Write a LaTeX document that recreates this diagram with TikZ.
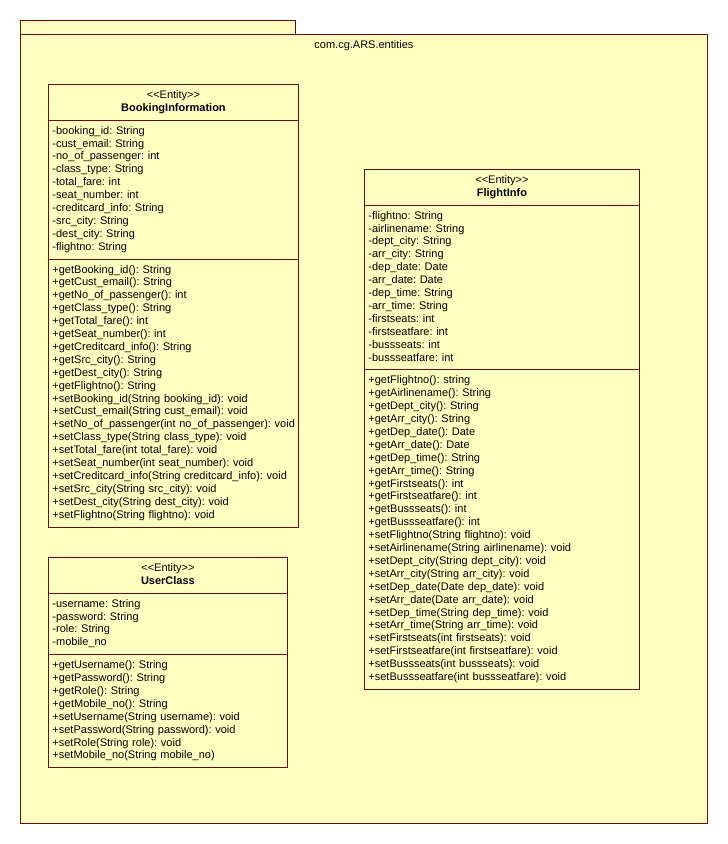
\documentclass[tikz,border=0pt]{standalone}
\usepackage{fontspec}
\setmainfont[Ligatures=NoCommon]{Liberation Sans}
\usepackage{xcolor}
\usetikzlibrary{shapes.multipart, positioning}

\definecolor{umlfill}{RGB}{255,255,192}
\definecolor{umlline}{RGB}{105,12,0}

\begin{document}
\begin{tikzpicture}[
    x=1pt, y=-1pt,
    every node/.style={font=\fontsize{11}{12.9}\selectfont\frenchspacing},
    pkgbox/.style={rectangle, draw=umlline, fill=umlfill, line width=0.9pt, anchor=north west, inner sep=0pt},
    entity/.style={rectangle split, rectangle split parts=3, draw=umlline, fill=umlfill, line width=0.9pt, anchor=north west, inner xsep=4pt, inner ysep=4.5pt, align=left}
]
    \useasboundingbox (0,0) rectangle (728,844);

    % Package frame
    \node[pkgbox, minimum width=275pt, minimum height=14pt] (pkgtab) at (20,20) {};
    \node[pkgbox, minimum width=687pt, minimum height=789pt] (pkgbody) at (20,34) {};
    \node[below=3pt of pkgbody.north] (pkgname) {com.cg.ARS.entities};

    % Entity classes
    \node[entity, text width=242pt] (booking) at (48,84) {%
        {\centering\strut{<}{<}Entity{>}{>}\\\textbf{BookingInformation}\strut\par}
        \nodepart{two}\raggedright\strut
        -booking\_id: String\\
        -cust\_email: String\\
        -no\_of\_passenger: int\\
        -class\_type: String\\
        -total\_fare: int\\
        -seat\_number: int\\
        -creditcard\_info: String\\
        -src\_city: String\\
        -dest\_city: String\\
        -flightno: String\strut
        \nodepart{three}\raggedright\strut
        +getBooking\_id(): String\\
        +getCust\_email(): String\\
        +getNo\_of\_passenger(): int\\
        +getClass\_type(): String\\
        +getTotal\_fare(): int\\
        +getSeat\_number(): int\\
        +getCreditcard\_info(): String\\
        +getSrc\_city(): String\\
        +getDest\_city(): String\\
        +getFlightno(): String\\
        +setBooking\_id(String booking\_id): void\\
        +setCust\_email(String cust\_email): void\\
        \mbox{+setNo\_of\_passenger(int no\_of\_passenger): void}\\
        +setClass\_type(String class\_type): void\\
        +setTotal\_fare(int total\_fare): void\\
        +setSeat\_number(int seat\_number): void\\
        +setCreditcard\_info(String creditcard\_info): void\\
        +setSrc\_city(String src\_city): void\\
        +setDest\_city(String dest\_city): void\\
        +setFlightno(String flightno): void\strut};

    \node[entity, text width=267pt] (flight) at (364,169) {%
        {\centering\strut{<}{<}Entity{>}{>}\\\textbf{FlightInfo}\strut\par}
        \nodepart{two}\raggedright\strut
        -flightno: String\\
        -airlinename: String\\
        -dept\_city: String\\
        -arr\_city: String\\
        -dep\_date: Date\\
        -arr\_date: Date\\
        -dep\_time: String\\
        -arr\_time: String\\
        -firstseats: int\\
        -firstseatfare: int\\
        -bussseats: int\\
        -bussseatfare: int\strut
        \nodepart{three}\raggedright\strut
        +getFlightno(): string\\
        +getAirlinename(): String\\
        +getDept\_city(): String\\
        +getArr\_city(): String\\
        +getDep\_date(): Date\\
        +getArr\_date(): Date\\
        +getDep\_time(): String\\
        +getArr\_time(): String\\
        +getFirstseats(): int\\
        +getFirstseatfare(): int\\
        +getBussseats(): int\\
        +getBussseatfare(): int\\
        +setFlightno(String flightno): void\\
        +setAirlinename(String airlinename): void\\
        +setDept\_city(String dept\_city): void\\
        +setArr\_city(String arr\_city): void\\
        +setDep\_date(Date dep\_date): void\\
        +setArr\_date(Date arr\_date): void\\
        +setDep\_time(String dep\_time): void\\
        +setArr\_time(String arr\_time): void\\
        +setFirstseats(int firstseats): void\\
        +setFirstseatfare(int firstseatfare): void\\
        +setBussseats(int bussseats): void\\
        +setBussseatfare(int bussseatfare): void\strut};

    \node[entity, text width=231pt] (user) at (48,557) {%
        {\centering\strut{<}{<}Entity{>}{>}\\\textbf{UserClass}\strut\par}
        \nodepart{two}\raggedright\strut
        -username: String\\
        -password: String\\
        -role: String\\
        -mobile\_no\strut
        \nodepart{three}\raggedright\strut
        +getUsername(): String\\
        +getPassword(): String\\
        +getRole(): String\\
        +getMobile\_no(): String\\
        +setUsername(String username): void\\
        +setPassword(String password): void\\
        +setRole(String role): void\\
        +setMobile\_no(String mobile\_no)\strut};
\end{tikzpicture}
\end{document}
